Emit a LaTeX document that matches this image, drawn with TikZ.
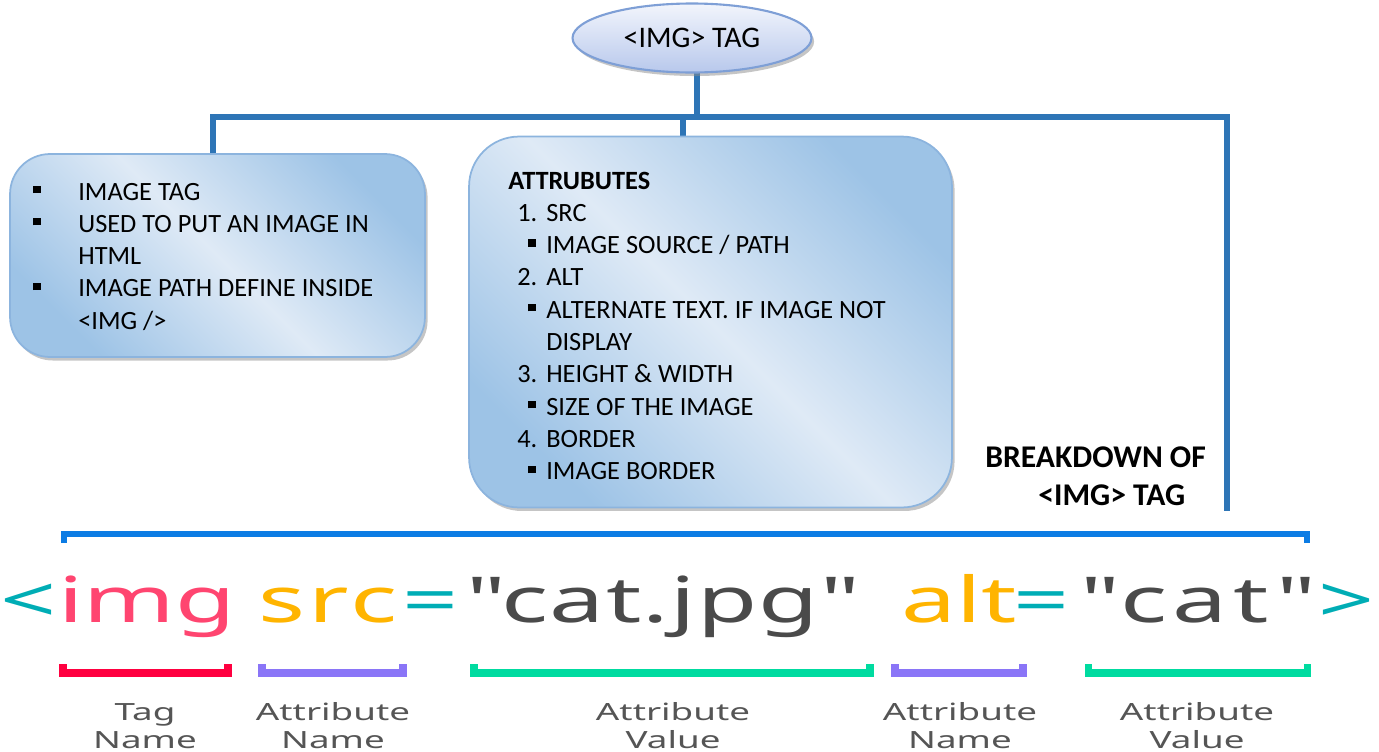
\documentclass[tikz,border=0pt]{standalone}
\usepackage{fontspec}
\setmainfont{Carlito}
\newfontfamily\codefont[FakeStretch=1.55]{Noto Sans}
\usepackage{tikz}
\usetikzlibrary{shapes.geometric, shadows, positioning, calc, backgrounds}
\usepackage{xcolor}
\definecolor{linkblue}{RGB}{46,117,182}
\definecolor{boxlight}{RGB}{223,234,246}
\definecolor{boxdark}{RGB}{157,195,230}
\definecolor{boxedge}{RGB}{140,180,222}
\definecolor{elltop}{RGB}{242,245,252}
\definecolor{ellbot}{RGB}{184,200,236}
\definecolor{elledge}{RGB}{126,159,214}
\definecolor{brkblue}{RGB}{12,124,228}
\definecolor{codeteal}{RGB}{0,173,181}
\definecolor{codepink}{RGB}{255,69,112}
\definecolor{codeorange}{RGB}{255,180,0}
\definecolor{codegray}{RGB}{74,74,74}
\definecolor{lblgray}{RGB}{85,85,85}
\definecolor{brkred}{RGB}{255,0,64}
\definecolor{brkpurple}{RGB}{138,117,247}
\definecolor{brkgreen}{RGB}{0,219,160}

\newcommand{\sqbul}{\raisebox{0.26em}{\rule{0.28em}{0.28em}}}
\newcommand{\twoline}[2]{\begin{tabular}[t]{@{}c@{}}#1\\#2\end{tabular}}

\begin{document}
\begin{tikzpicture}[
    x=0.02cm, y=-0.02cm,
    every node/.style={inner sep=0pt},
    conn/.style={draw=linkblue, line width=3.2pt},
    infobox/.style={rectangle, draw=boxedge, line width=1pt, rounded corners=0.8cm,
        top color=boxdark, bottom color=boxdark, middle color=boxlight, shading angle=-45,
        drop shadow={shadow xshift=1.5pt, shadow yshift=-2pt, fill=black!45, opacity=.5}},
    tagell/.style={ellipse, draw=elledge, line width=1.2pt, top color=elltop, bottom color=ellbot,
        minimum width=4.78cm, minimum height=1.38cm, font=\fontsize{17}{20}\selectfont,
        drop shadow={shadow xshift=1.5pt, shadow yshift=-2pt, fill=black!45, opacity=.5}},
    boxtxt/.style={anchor=base west, font=\fontsize{15}{18.4}\selectfont},
    codetxt/.style={anchor=base west, font=\codefont\fontsize{36}{40}\selectfont},
    lbl/.style={anchor=base, text=lblgray, font=\codefont\fontsize{13.5}{16.4}\selectfont},
    topbrk/.style={draw=brkblue, line width=3.4pt},
    ubrk/.style={line width=4pt}
]
    \clip (0,0) rectangle (1379,751);

    % top part
    \node[tagell] (tag) at (692,38) {<IMG> TAG};
    \node[infobox, minimum width=8.3cm, minimum height=4.06cm] (info) at (217.5,255.5) {};
    \node[infobox, minimum width=9.66cm, minimum height=7.42cm, rounded corners=1cm] (attr) at (710.5,322) {};

    \node[boxtxt] (infotxt) at (33,200) {\begin{tabular}[t]{@{}l@{}}
        \makebox[0.9cm][l]{\sqbul}IMAGE TAG\\
        \makebox[0.9cm][l]{\sqbul}USED TO PUT AN IMAGE IN\\
        \hspace*{0.9cm}HTML\\
        \makebox[0.9cm][l]{\sqbul}IMAGE PATH DEFINE INSIDE\\
        \hspace*{0.9cm}<IMG />
    \end{tabular}};

    \node[boxtxt] (attrtxt) at (508,189) {\begin{tabular}[t]{@{}l@{}}
        \textbf{ATTRUBUTES}\\
        \hspace*{0.18cm}\makebox[0.58cm][l]{1.}SRC\\
        \hspace*{0.4cm}\makebox[0.36cm][l]{\sqbul}IMAGE SOURCE / PATH\\
        \hspace*{0.18cm}\makebox[0.58cm][l]{2.}ALT\\
        \hspace*{0.4cm}\makebox[0.36cm][l]{\sqbul}ALTERNATE TEXT. IF IMAGE NOT\\
        \hspace*{0.76cm}DISPLAY\\
        \hspace*{0.18cm}\makebox[0.58cm][l]{3.}HEIGHT \& WIDTH\\
        \hspace*{0.4cm}\makebox[0.36cm][l]{\sqbul}SIZE OF THE IMAGE\\
        \hspace*{0.18cm}\makebox[0.58cm][l]{4.}BORDER\\
        \hspace*{0.4cm}\makebox[0.36cm][l]{\sqbul}IMAGE BORDER
    \end{tabular}};

    \node[anchor=base west, font=\bfseries\fontsize{18}{22}\selectfont] (brk) at (985,467)
        {\begin{tabular}[t]{@{}l@{}}BREAKDOWN OF\\\hspace*{1.06cm}<IMG> TAG\end{tabular}};

    \coordinate (busL) at (213,117);
    \coordinate (busT) at (697,117);
    \coordinate (busM) at (683,117);
    \coordinate (busR) at (1227,117);
    \coordinate (busend) at (1227,511);

    \begin{scope}[on background layer]
        \draw[conn] (tag.center -| busT) -- (busT);
        \draw[conn] (info.north -| busL) -- (busL) -- (busR) -- (busend);
        \draw[conn] (busM) -- (attr.north -| busM);
    \end{scope}

    % breakdown of the tag
    \draw[topbrk] (64,543) -- (64,534) -- (1307,534) -- (1307,543);

    \node[codetxt, text=codeteal] (lt) at (0,622) {<};
    \node[codetxt, text=codepink] (tagname) at (58,622) {img};
    \node[codetxt, text=codeorange] (srcname) at (258,622) {\addfontfeature{LetterSpace=5}src};
    \node[codetxt, text=codeteal] (eqa) at (402,622) {=};
    \node[codetxt, text=codegray] (srcval) at (466,622) {\addfontfeature{LetterSpace=2}"cat.jpg"};
    \node[codetxt, text=codeorange] (altname) at (901,622) {alt};
    \node[codetxt, text=codeteal] (eqb) at (1013,622) {=};
    \node[codetxt, text=codegray] (altval) at (1080,622) {\addfontfeature{LetterSpace=9}"cat"};
    \node[codetxt, text=codeteal] (gt) at (1318,622) {>};

    \foreach \a/\b/\c in {63/228/brkred, 262/403/brkpurple, 474/870/brkgreen, 895/1023/brkpurple, 1088/1307/brkgreen}
        \draw[ubrk, draw=\c] (\a,664) -- (\a,673) -- (\b,673) -- (\b,664);

    \node[lbl] (lbtag) at (145,720) {\twoline{Tag}{Name}};
    \node[lbl] (lbsrc) at (333,720) {\twoline{Attribute}{Name}};
    \node[lbl] (lbsrcval) at (673,720) {\twoline{Attribute}{Value}};
    \node[lbl] (lbalt) at (960,720) {\twoline{Attribute}{Name}};
    \node[lbl] (lbaltval) at (1197,720) {\twoline{Attribute}{Value}};
\end{tikzpicture}
\end{document}
